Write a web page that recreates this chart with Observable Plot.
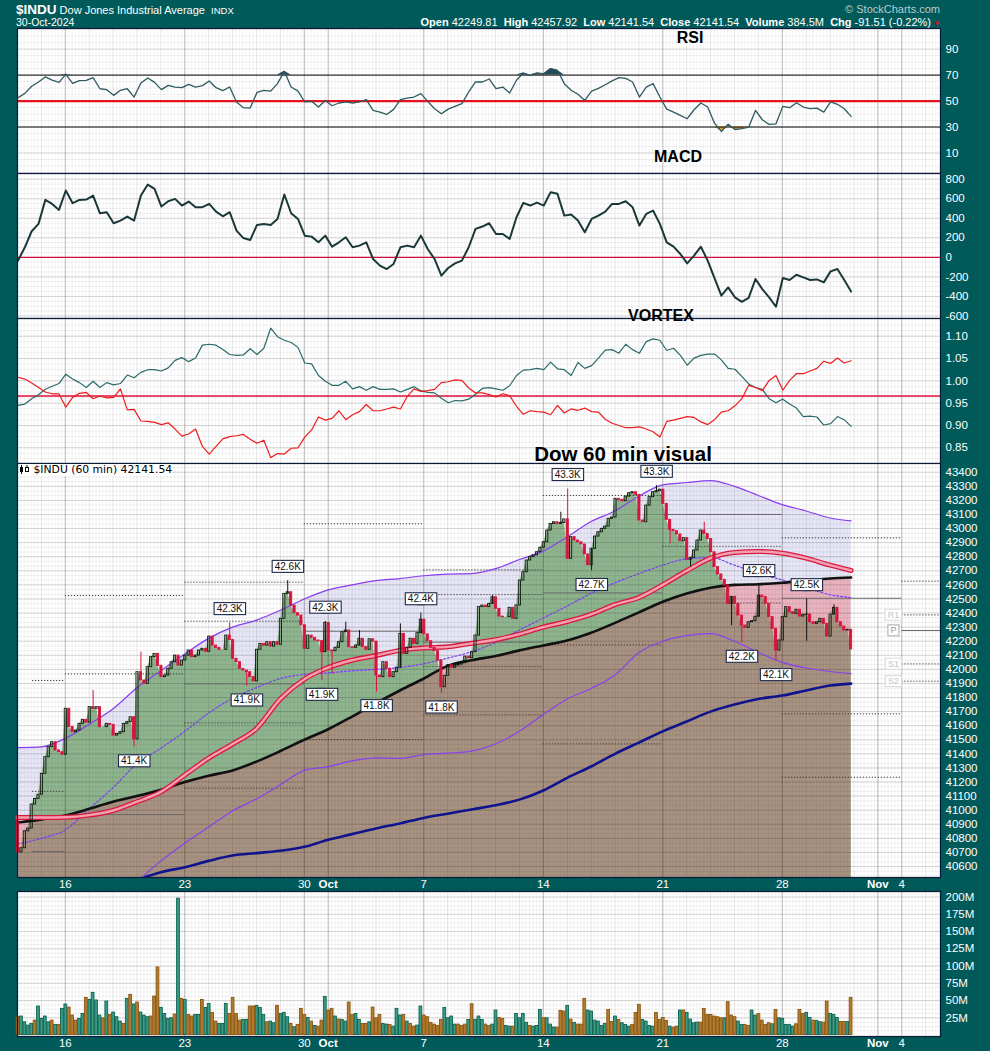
<!DOCTYPE html>
<html><head><meta charset="utf-8">
<script src="https://cdn.jsdelivr.net/npm/d3@7"></script>
<script src="https://cdn.jsdelivr.net/npm/@observablehq/plot@0.6"></script>
<style>
body{margin:0;background:#015a5a;}
#root{position:relative;width:990px;height:1051px;background:#015a5a;overflow:hidden;font-family:"Liberation Sans",Arial,sans-serif;}
.hdr{position:absolute;color:#fff;white-space:nowrap;}
.ttl{position:absolute;transform:translate(-50%,-50%);font-weight:bold;color:#000;white-space:nowrap;z-index:5;line-height:1;}
</style></head>
<body><div id="root"></div>
<script>
// ---------------- DATA ----------------
// trading-day positions of axis labels (0 = Sep 12)
const xTickDays = [2, 7, 12, 13, 17, 22, 27, 32, 36, 37];
const xTickLabels = ["16", "23", "30", "Oct", "7", "14", "21", "28", "Nov", "4"];

const firstOpen = 40930;
// hourly closes, 7 bars per trading day, Sep 12 .. Oct 30
const closes = [
40700,40730,40850,40870,41040,41080,41110,
41258,41376,41448,41483,41424,41412,41394,
41720,41590,41554,41566,41613,41642,41622,
41732,41720,41732,41590,41590,41613,41606,
41530,41542,41554,41613,41625,41660,41503,
41980,41921,41897,42016,42087,42110,42025,
41945,41956,42004,42051,42098,42027,42063,
42098,42134,42087,42098,42134,42146,42125,
42233,42169,42153,42139,42139,42240,42208,
42075,42051,42004,41992,41980,41945,41915,
42139,42181,42169,42193,42162,42193,42175,
42359,42536,42548,42453,42399,42382,42313,
42146,42240,42224,42205,42200,42122,42330,
42134,42129,42153,42193,42264,42276,42157,
42153,42169,42217,42158,42139,42214,42197,
41956,41945,42051,42004,41945,41980,42012,
42252,42110,42153,42217,42181,42257,42353,
42248,42200,42153,42129,42063,41873,41954,
42030,42011,42027,42034,42044,42091,42080,
42122,42240,42442,42453,42442,42465,42512,
42430,42375,42371,42371,42437,42359,42454,
42631,42690,42773,42797,42810,42832,42864,
42903,42986,43033,43045,43033,43040,43065,
42785,42939,42915,42903,42887,42816,42740,
42856,42943,42974,42998,43014,43069,43078,
43211,43204,43194,43227,43251,43258,43239,
43057,43045,43163,43223,43258,43265,43276,
43175,43062,42991,42981,42958,42910,42932,
42778,42792,42844,42915,42986,42962,42925,
42832,42726,42674,42636,42595,42465,42515,
42465,42382,42311,42295,42335,42342,42374,
42524,42513,42465,42371,42288,42134,42205,
42371,42442,42406,42394,42423,42375,42388,
42390,42335,42323,42335,42359,42323,42233,
42389,42437,42335,42304,42276,42281,42141.54];

// visible wicks (bar index, high, low)
const wickBar  = [22,34,36,62,67,79,89,90,92,96,100,105,112,118,124,139,159,161,168,187,191,197,201,209,212,217,222,231,239];
const wickHigh = [41850,null,42122,42330,null,42630,null,42340,null,42335,42276,null,42323,42400,null,42524,43116,43282,null,43305,null,null,43045,null,null,42600,null,42500,42458];
const wickLow  = [null,41448,null,null,41880,null,41920,null,41968,null,null,41840,null,null,41830,null,null,null,42700,null,42891,42726,null,42311,42190,null,42060,42200,null];

// peak / trough callouts
const callBar   = [34,62,67,79,90,89,105,118,124,161,168,187,217,212,222,231];
const callPrice = [41448,42330,41880,42630,42340,41920,41840,42400,41830,43282,42700,43305,42600,42190,42060,42500];
const callText  = ["41.4K","42.3K","41.9K","42.6K","42.3K","41.9K","41.8K","42.4K","41.8K","43.3K","42.7K","43.3K","42.6K","42.2K","42.1K","42.5K"];
const callAbove = [0,1,0,1,1,0,0,1,0,1,0,1,1,0,0,1];

// moving averages / bands sampled once per trading day
const maDays = [0,1,2,3,4,5,6,7,8,9,10,11,12,13,14,15,16,17,18,19,20,21,22,23,24,25,26,27,28,29,30,31,32,33,34,34.88];
const upperBand = [41445,41450,41510,41610,41720,41870,41990,42110,42220,42300,42350,42420,42500,42565,42600,42630,42645,42665,42676,42680,42715,42780,42840,42940,43050,43125,43230,43310,43327,43341,43300,43235,43170,43125,43075,43055];
const midBand = [40760,40800,40860,41010,41160,41330,41440,41560,41690,41795,41870,41935,41965,41975,41990,42000,42013,42040,42080,42125,42190,42280,42365,42450,42540,42615,42680,42740,42785,42794,42740,42680,42635,42580,42530,42510];
const lowerBand = [null,null,null,null,null,40490,40640,40766,40880,40995,41080,41180,41283,41310,41350,41372,41368,41395,41405,41420,41470,41560,41680,41790,41864,41960,42120,42200,42240,42254,42200,42120,42050,42010,41985,41970];
const redMA = [40948,40948,40950,40965,40998,41060,41130,41250,41370,41470,41580,41790,41930,42013,42065,42098,42135,42152,42160,42185,42210,42250,42300,42340,42390,42460,42510,42600,42700,42790,42830,42837,42825,42790,42740,42702];
const blackMA = [40912,40935,40962,41010,41060,41100,41145,41200,41245,41282,41345,41420,41500,41575,41665,41760,41850,41935,42025,42065,42095,42135,42170,42205,42260,42330,42405,42480,42539,42580,42600,42605,42615,42630,42645,42652];
const navyMA = [null,null,null,null,null,40505,40560,40595,40640,40678,40695,40712,40740,40790,40830,40870,40906,40945,40975,41005,41035,41075,41140,41230,41310,41400,41480,41560,41630,41700,41750,41790,41814,41850,41885,41899];

// weekly pivot levels
const pivStart = [0.63,0.63,0.63, 2,2,2, 7,7,7,7,7, 12,12,12, 17,17,17,17,17, 22,22,22,22, 27,27,27, 32,32,32,32, 37,37,37,37,37];
const pivEnd   = [2,2,2, 7,7,7, 12,12,12,12,12, 17,17,17, 22,22,22,22,22, 27,27,27,27, 32,32,32, 37,37,37,37, 38.62,38.62,38.62,38.62,38.62];
const pivValue = [41921,41134,40706, 42524,41968,40969, 42619,42342,41897,41620,41156, 43034,42271,41501, 42707,42531,42193,42020,41677, 43235,42543,42174,41471, 43100,42874,42472, 42934,42505,41684,41234, 42626,42387,42276,42039,41916];
const pivSolid = [0,0,1, 0,0,1, 0,0,1,0,0, 0,1,0, 0,0,1,0,0, 0,1,0,0, 1,0,0, 0,1,0,0, 0,0,1,0,0];
const pivLabel = ["R1","P","S1","S2"];
const pivLabelValue = [42387,42276,42039,41916];

// indicators, one value every 2 hourly bars
const rsi = [52.6,55.9,61.4,64.7,68.6,66.2,64.4,70.6,63.7,65.7,66.0,68.0,59.5,58.8,54.4,58.3,59.5,53.1,63.9,67.8,64.4,58.8,62.1,60.8,60.3,62.9,60.8,61.9,65.5,60.3,58.0,60.8,49.3,44.9,44.6,56.7,58.3,57.7,63.4,72.9,60.8,57.7,49.3,49.8,45.4,50.5,46.4,48.5,49.3,48.5,49.3,51.1,42.8,41.5,39.7,43.6,51.1,52.3,53.1,55.7,49.8,44.1,40.2,43.8,45.9,48.0,57.0,64.7,64.7,67.0,59.5,60.8,56.2,66.0,71.6,69.8,71.6,71.1,75.0,73.7,63.4,58.3,55.2,50.5,57.7,59.8,62.6,65.5,68.0,67.5,64.7,53.1,60.8,63.4,53.1,43.8,41.5,39.0,36.4,43.3,48.5,45.4,33.0,26.6,32.2,28.1,28.7,29.9,42.8,35.6,32.0,32.5,45.9,44.9,48.7,45.4,44.1,44.6,41.5,49.3,47.5,44.1,38.2];
const macd = [-34,103,267,342,588,547,485,684,554,588,591,632,451,462,349,376,417,376,632,745,701,520,574,598,530,571,513,513,547,468,420,462,274,197,177,332,342,332,393,643,451,393,222,212,154,222,109,154,205,103,120,154,-17,-85,-120,-68,103,120,103,222,85,-17,-188,-109,-62,-34,103,291,315,349,239,239,188,410,557,530,560,530,667,650,427,438,376,256,393,427,468,547,547,574,513,325,444,479,342,154,109,34,-62,17,109,-34,-212,-393,-308,-410,-455,-414,-222,-325,-410,-506,-212,-232,-178,-205,-232,-226,-256,-144,-120,-232,-349];
const viPlus = [0.945,0.948,0.960,0.969,0.981,0.988,0.994,1.015,1.004,0.996,0.985,0.999,0.985,0.996,0.991,0.994,1.013,1.007,1.019,1.025,1.025,1.022,1.029,1.046,1.052,1.043,1.051,1.080,1.082,1.080,1.070,1.059,1.057,1.058,1.072,1.059,1.073,1.118,1.099,1.091,1.086,1.075,1.040,1.038,1.012,0.999,0.990,0.990,0.999,0.982,0.987,0.979,0.987,0.981,0.981,0.982,0.975,0.981,0.987,0.978,0.974,0.973,0.961,0.951,0.956,0.955,0.959,0.970,0.983,0.985,0.982,0.979,0.989,1.012,1.024,1.025,1.028,1.025,1.042,1.027,1.025,1.012,1.041,1.028,1.034,1.051,1.069,1.070,1.062,1.082,1.070,1.062,1.088,1.094,1.091,1.068,1.073,1.057,1.035,1.051,1.057,1.060,1.060,1.047,1.028,1.026,1.010,0.993,0.985,0.981,0.960,0.951,0.959,0.948,0.939,0.920,0.921,0.919,0.901,0.904,0.920,0.913,0.898];
const viMinus = [1.008,1.004,0.995,0.985,0.975,0.971,0.971,0.941,0.963,0.972,0.974,0.960,0.966,0.962,0.963,0.982,0.935,0.936,0.910,0.909,0.907,0.902,0.906,0.892,0.876,0.881,0.892,0.853,0.836,0.853,0.870,0.875,0.877,0.880,0.869,0.860,0.867,0.828,0.837,0.836,0.849,0.850,0.874,0.890,0.919,0.912,0.916,0.933,0.913,0.924,0.931,0.947,0.933,0.933,0.937,0.941,0.937,0.965,0.982,0.976,0.978,0.981,0.996,0.998,1.002,1.001,0.984,0.973,0.973,0.969,0.964,0.971,0.967,0.943,0.925,0.933,0.931,0.930,0.924,0.945,0.928,0.937,0.934,0.939,0.931,0.930,0.914,0.905,0.900,0.895,0.895,0.897,0.892,0.886,0.874,0.909,0.912,0.916,0.920,0.918,0.908,0.902,0.913,0.930,0.933,0.944,0.960,0.990,0.985,0.978,1.001,1.012,0.979,1.001,1.016,1.016,1.022,1.028,1.044,1.039,1.051,1.040,1.045];
const vortexLine = 0.966;

// hourly volume (millions) and up/down flag
const volumes = [25.9,26.9,18.6,13.8,16.2,21.0,41.4,23.5,26.9,18.6,21.0,14.8,14.8,38.0,44.3,39.9,28.3,21.0,23.5,30.7,53.9,51.0,61.2,50.1,28.3,24.4,48.6,29.3,32.7,25.9,19.6,16.2,52.5,58.3,44.3,47.2,32.7,28.3,25.9,26.9,55.9,98.0,39.4,30.7,23.5,24.4,29.8,197.6,52.5,51.0,29.3,26.9,29.3,29.3,51.0,39.4,45.2,32.2,19.6,16.2,16.2,45.2,30.7,53.9,30.7,21.0,22.0,22.0,41.4,41.4,42.3,39.4,29.3,18.6,19.6,17.2,42.3,30.7,32.2,25.9,16.2,11.4,14.8,38.0,29.3,24.9,19.6,13.3,12.3,21.0,55.4,35.6,38.0,26.9,22.5,22.0,19.6,47.2,29.3,30.7,22.0,16.2,16.2,18.6,39.9,24.4,29.3,16.2,15.2,14.8,12.3,38.0,28.3,29.3,19.6,16.2,12.3,13.8,41.4,28.3,25.9,17.7,15.2,13.3,22.0,39.4,24.4,26.9,15.2,15.2,13.3,15.2,22.0,44.7,22.0,26.9,22.0,15.2,13.3,15.2,35.6,24.9,23.5,13.3,12.3,12.3,30.7,24.4,30.7,17.7,13.3,12.3,13.3,36.5,24.4,24.4,15.2,10.9,10.9,35.1,34.1,42.3,22.5,17.7,15.2,15.2,52.5,35.6,34.1,21.0,19.6,13.3,16.2,36.5,19.1,26.9,22.0,17.2,14.8,12.3,14.8,32.2,43.8,22.0,19.6,13.3,12.3,32.2,22.0,24.9,20.6,12.3,10.9,12.3,35.6,35.6,32.2,22.5,17.2,18.1,18.1,38.0,29.3,29.3,26.9,25.9,24.4,24.4,47.7,28.3,25.9,19.6,14.8,14.8,13.3,35.6,28.3,30.7,21.0,14.8,17.2,15.7,36.5,24.4,23.5,14.8,14.8,12.3,15.7,36.5,30.7,32.2,24.9,21.0,20.6,18.6,18.1,48.6,30.7,29.3,24.9,19.1,19.1,19.1,53.9];
const volUp = [0,1,1,1,1,0,1,1,1,1,0,1,0,1,1,0,0,0,1,1,0,1,1,1,1,0,1,0,1,1,1,0,1,0,1,0,1,1,1,0,0,0,1,1,1,1,0,1,0,1,0,0,1,1,0,1,1,0,0,1,1,1,0,0,0,0,1,1,0,0,1,1,1,0,1,1,0,1,1,1,0,1,0,0,0,1,0,1,0,0,1,0,0,1,0,1,1,0,0,1,1,0,0,1,0,0,0,1,1,0,1,1,1,0,1,0,0,1,1,0,0,0,0,0,0,1,1,1,1,0,0,0,1,0,1,1,1,0,0,1,1,0,0,1,1,0,1,1,1,1,0,1,1,1,0,1,1,1,0,0,0,1,0,1,0,0,0,1,1,1,1,1,1,0,0,1,0,1,1,1,0,0,0,1,1,1,1,0,0,0,0,1,0,0,1,0,1,1,1,1,0,0,0,0,0,0,0,1,0,0,0,1,1,0,0,1,1,0,0,0,0,1,0,1,1,1,1,1,0,0,0,1,1,0,1,1,0,0,1,1,1,0,0,1,0];

// ---------------- STYLE ----------------
const FONT = '"Liberation Sans", Arial, sans-serif';
const BORDER = "#0d1b3a";
const LAV = "#e6e6f6", PINK = "#eab3c0", GREEN = "#8fb58f", BROWN = "#a89282";
const PURPLE = "#8a3ff0", CRED = "#d4163c";
const NS = "http://www.w3.org/2000/svg";
const X_DOMAIN = [0, 38.62];
const root = document.getElementById("root");

const barX = i => (i + 0.15) / 7;
const barLines = d3.range(0, 271).map(k => k / 7);
const dayLines = d3.range(0, 39);
const majorLines = [2, 7, 12, 13, 17, 22, 27, 32, 36, 37];

function gridMarks(yMinor, yMajor) {
  return [
    Plot.ruleX(barLines, {stroke: "#000", strokeOpacity: 0.045}),
    Plot.ruleY(yMinor, {stroke: "#000", strokeOpacity: 0.06}),
    Plot.ruleX(dayLines, {stroke: "#000", strokeOpacity: 0.06}),
    Plot.ruleY(yMajor, {stroke: "#000", strokeOpacity: 0.12}),
    Plot.ruleX(majorLines, {stroke: "#000", strokeOpacity: 0.2})
  ];
}

function addPanel(top, h, mb, yOpts, marks, xAxis) {
  const xOpts = xAxis
    ? {domain: X_DOMAIN, label: null, axis: "bottom", ticks: xTickDays, tickFormat: d => xTickLabels[xTickDays.indexOf(d)], tickSize: 0, tickPadding: 2}
    : {domain: X_DOMAIN, label: null, axis: null};
  const svg = Plot.plot({
    width: 990, height: h + mb,
    marginTop: 0, marginBottom: mb, marginLeft: 17, marginRight: 50,
    style: {background: "transparent", color: "#fff", fontFamily: FONT, fontSize: "11.5px", overflow: "visible"},
    x: xOpts,
    y: Object.assign({axis: "right", label: null, tickSize: 0, tickPadding: 5}, yOpts),
    marks: [Plot.frame({fill: "#fff"}), ...marks, Plot.frame({stroke: BORDER, strokeWidth: 1.2})]
  });
  svg.style.position = "absolute"; svg.style.left = "0px"; svg.style.top = top + "px";
  root.appendChild(svg);
  svg.querySelectorAll("text").forEach(t => { if (t.textContent === "Oct" || t.textContent === "Nov") t.setAttribute("font-weight", "bold"); });
  return svg;
}

// ---------------- RSI ----------------
const rsiRows = rsi.map((v, k) => ({x: barX(2 * k), v}));
addPanel(28, 145, 0, {domain: [-5.8, 105.9], ticks: [10, 30, 50, 70, 90]}, [
  ...gridMarks(d3.range(-5, 106, 5), [10, 90]),
  Plot.areaY(rsiRows, {x: "x", y1: 70, y2: r => Math.max(70, r.v), fill: "#23485a"}),
  Plot.areaY(rsiRows, {x: "x", y1: r => Math.min(30, r.v), y2: 30, fill: "#e59a2a"}),
  Plot.ruleY([70, 30], {stroke: "#000", strokeWidth: 1}),
  Plot.ruleY([50], {stroke: "#e8101c", strokeWidth: 2.2}),
  Plot.line(rsiRows, {x: "x", y: "v", stroke: "#2d5a60", strokeWidth: 1.3})
]);

// ---------------- MACD ----------------
const macdRows = macd.map((v, k) => ({x: barX(2 * k), v}));
addPanel(173, 145, 0, {domain: [-626, 858], ticks: [-600, -400, -200, 0, 200, 400, 600, 800], tickFormat: d => String(d)}, [
  ...gridMarks(d3.range(-600, 851, 50), d3.range(-600, 801, 200)),
  Plot.ruleY([0], {stroke: "#d0103a", strokeWidth: 1.2}),
  Plot.line(macdRows, {x: "x", y: "v", stroke: "#1a3838", strokeWidth: 2})
]);

// ---------------- VORTEX ----------------
const viRows = viPlus.map((v, k) => ({x: barX(2 * k), p: v, m: viMinus[k]}));
addPanel(318, 145, 0, {domain: [0.8148, 1.1397], ticks: [0.85, 0.9, 0.95, 1.0, 1.05, 1.1], tickFormat: d => d.toFixed(2)}, [
  ...gridMarks(d3.range(0.8125, 1.14, 0.0125), [0.85, 0.9, 0.95, 1.0, 1.05, 1.1]),
  Plot.ruleY([vortexLine], {stroke: "#e0103a", strokeWidth: 1.3}),
  Plot.line(viRows, {x: "x", y: "p", stroke: "#2b6a6a", strokeWidth: 1.2}),
  Plot.line(viRows, {x: "x", y: "m", stroke: "#ee1c1c", strokeWidth: 1.2})
]);

// ---------------- PRICE ----------------
const yMin = 40522;
const bars = closes.map((c, i) => ({x: barX(i), o: i ? closes[i - 1] : firstOpen, c}));
const maRows = maDays.map((d, k) => ({d, up: upperBand[k], mid: midBand[k], lo: lowerBand[k], red: redMA[k], blk: blackMA[k], navy: navyMA[k]}));
const wickRows = wickBar.map((b, k) => {
  const br = bars[b];
  return {x: br.x, hi: wickHigh[k] ?? Math.max(br.o, br.c), lo: wickLow[k] ?? Math.min(br.o, br.c), up: br.c >= br.o};
});
const callRows = callBar.map((b, k) => ({x: barX(b), y: callPrice[k], t: callText[k], above: callAbove[k]}));
const pivRows = pivValue.map((v, k) => ({s: pivStart[k], e: pivEnd[k], v, solid: pivSolid[k]}));
const pivLabRows = pivLabel.map((t, k) => ({t, v: pivLabelValue[k]}));
const CURVE = "monotone-x";

const priceSvg = addPanel(463, 414, 14, {domain: [yMin, 43462], ticks: d3.range(40600, 43401, 100), tickFormat: d => String(d)}, [
  Plot.areaY(maRows, {x: "d", y1: yMin, y2: "up", fill: LAV, curve: CURVE}),
  Plot.areaY(maRows, {x: "d", y1: yMin, y2: "blk", fill: PINK, curve: CURVE}),
  Plot.areaY(bars, {x: "x", y1: yMin, y2: "c", fill: GREEN}),
  Plot.areaY(maRows, {x: "d", y1: yMin, y2: "blk", fill: BROWN, curve: CURVE}),
  ...gridMarks(d3.range(40500, 43462, 100 / 3), d3.range(40600, 43401, 100)),
  Plot.ruleY(pivRows.filter(r => !r.solid), {y: "v", x1: "s", x2: "e", stroke: "#3a3a3a", strokeWidth: 1, strokeDasharray: "1.2,1.8"}),
  Plot.ruleY(pivRows.filter(r => r.solid), {y: "v", x1: "s", x2: "e", stroke: "#6a6a6a", strokeWidth: 1}),
  Plot.line(maRows, {x: "d", y: "navy", stroke: "#10148c", strokeWidth: 2.6, curve: CURVE, clip: true}),
  Plot.line(maRows, {x: "d", y: "lo", stroke: PURPLE, strokeWidth: 1.2, curve: CURVE, clip: true}),
  Plot.line(maRows, {x: "d", y: "up", stroke: PURPLE, strokeWidth: 1.2, curve: CURVE}),
  Plot.line(maRows, {x: "d", y: "mid", stroke: "#7a3ff0", strokeWidth: 1.2, strokeDasharray: "2,2", curve: CURVE}),
  Plot.line(maRows, {x: "d", y: "blk", stroke: "#111", strokeWidth: 2.6, curve: CURVE}),
  Plot.line(maRows, {x: "d", y: "red", stroke: "#d91a3f", strokeWidth: 5, curve: CURVE}),
  Plot.line(maRows, {x: "d", y: "red", stroke: "#f2a1b2", strokeWidth: 2.4, curve: CURVE}),
  Plot.ruleX(wickRows.filter(r => r.up), {x: "x", y1: "lo", y2: "hi", stroke: "#111", strokeWidth: 1}),
  Plot.ruleX(wickRows.filter(r => !r.up), {x: "x", y1: "lo", y2: "hi", stroke: CRED, strokeWidth: 1}),
  Plot.rect(bars.filter(b => b.c >= b.o), {x1: b => b.x - 0.045, x2: b => b.x + 0.045, y1: "o", y2: "c", fill: "none", stroke: "#0c1a0c", strokeWidth: 0.9}),
  Plot.rect(bars.filter(b => b.c < b.o), {x1: b => b.x - 0.045, x2: b => b.x + 0.045, y1: "c", y2: "o", fill: CRED, stroke: CRED, strokeWidth: 0.9}),
  Plot.text(callRows.filter(r => r.above), {x: "x", y: "y", text: "t", dy: -14, fill: "#111111", fontSize: 10, fontFamily: FONT}),
  Plot.text(callRows.filter(r => !r.above), {x: "x", y: "y", text: "t", dy: 14, fill: "#111112", fontSize: 10, fontFamily: FONT}),
  Plot.text(pivLabRows.filter(r => r.t === "P"), {x: 36.65, y: "v", text: "t", fill: "#999999", fontSize: 9, fontFamily: FONT}),
  Plot.text(pivLabRows.filter(r => r.t !== "P"), {x: 36.65, y: "v", text: "t", fill: "#c4c4c4", fontSize: 9, fontFamily: FONT})
], true);

// clip brown region to below the close area
(function () {
  const gGreen = priceSvg.querySelector(`g[fill="${GREEN}"]`);
  const gBrown = priceSvg.querySelector(`g[fill="${BROWN}"]`);
  if (!gGreen || !gBrown) return;
  const d = gGreen.querySelector("path").getAttribute("d");
  const defs = document.createElementNS(NS, "defs");
  const cp = document.createElementNS(NS, "clipPath");
  cp.setAttribute("id", "belowClose");
  const p = document.createElementNS(NS, "path");
  p.setAttribute("d", d);
  cp.appendChild(p); defs.appendChild(cp);
  priceSvg.insertBefore(defs, priceSvg.firstChild);
  gBrown.querySelectorAll("path").forEach(el => el.setAttribute("clip-path", "url(#belowClose)"));
})();

function boxify(svg, fill, dir, bg, border) {
  const g = svg.querySelector(`g[fill="${fill}"]`);
  if (!g) return;
  g.querySelectorAll("text").forEach(t => {
    const b = t.getBBox();
    const tr = t.getAttribute("transform");
    const ax = +(t.getAttribute("x") || 0), ay = +(t.getAttribute("y") || 0);
    const r = document.createElementNS(NS, "rect");
    r.setAttribute("x", b.x - 2.5); r.setAttribute("y", b.y - 0.5);
    r.setAttribute("width", b.width + 5); r.setAttribute("height", b.height + 1);
    r.setAttribute("fill", bg); r.setAttribute("stroke", border); r.setAttribute("stroke-width", 1.1);
    if (tr) r.setAttribute("transform", tr);
    g.insertBefore(r, t);
    if (dir) {
      const edge = dir > 0 ? b.y + b.height + 0.5 : b.y - 0.5;
      const tip = dir > 0 ? ay + 14 : ay - 14;
      const apex = dir > 0 ? Math.min(edge + 5, tip) : Math.max(edge - 5, tip);
      const tri = document.createElementNS(NS, "path");
      tri.setAttribute("d", `M${ax - 4},${edge}L${ax + 4},${edge}L${ax},${apex}Z M${ax},${apex}L${ax},${tip}`);
      tri.setAttribute("fill", "#fff"); tri.setAttribute("stroke", border); tri.setAttribute("stroke-width", 1);
      if (tr) tri.setAttribute("transform", tr);
      g.insertBefore(tri, r);
    }
  });
}
boxify(priceSvg, "#111111", 1, "#fff", "#1e2a4a");
boxify(priceSvg, "#111112", -1, "#fff", "#1e2a4a");
boxify(priceSvg, "#999999", 0, "#fff", "#b0b0b0");
boxify(priceSvg, "#c4c4c4", 0, "#fff", "#dddddd");

// ---------------- VOLUME ----------------
const volRows = volumes.map((v, i) => ({x: barX(i), v, up: volUp[i]}));
addPanel(891, 145, 15, {domain: [-2, 208], ticks: [25, 50, 75, 100, 125, 150, 175, 200], tickFormat: d => d + "M"}, [
  ...gridMarks(d3.range(6.25, 208, 6.25), d3.range(25, 201, 25)),
  Plot.rect(volRows.filter(r => r.up), {x1: r => r.x - 0.058, x2: r => r.x + 0.058, y1: 0, y2: "v", fill: "#3c9985", stroke: "#0b6450", strokeWidth: 0.9}),
  Plot.rect(volRows.filter(r => !r.up), {x1: r => r.x - 0.058, x2: r => r.x + 0.058, y1: 0, y2: "v", fill: "#b27b32", stroke: "#8a560e", strokeWidth: 0.9})
], true);

// ---------------- TEXT OVERLAYS ----------------
function html(s) { const d = document.createElement("div"); d.innerHTML = s; while (d.firstChild) root.appendChild(d.firstChild); }
html(`<div class="hdr" style="left:16px;top:2px;font-size:11px"><b style="font-size:13.5px">$INDU</b> Dow Jones Industrial Average&nbsp; <span style="font-size:9.5px">INDX</span></div>`);
html(`<div class="hdr" style="left:16px;top:16px;font-size:10.5px">30-Oct-2024</div>`);
html(`<div class="hdr" style="right:59px;top:16px;font-size:11px"><b>Open</b> 42249.81&nbsp; <b>High</b> 42457.92&nbsp; <b>Low</b> 42141.54&nbsp; <b>Close</b> 42141.54&nbsp; <b>Volume</b> 384.5M&nbsp; <b>Chg</b> -91.51 (-0.22%)</div>`);
html(`<div class="hdr" style="left:933px;top:19px;font-size:8px;color:#d0102a">▼</div>`);
html(`<div class="hdr" style="right:50px;top:3px;font-size:11px;color:#b8cccc">© StockCharts.com</div>`);
html(`<div class="ttl" style="left:690px;top:38px;font-size:16px">RSI</div>`);
html(`<div class="ttl" style="left:678px;top:157px;font-size:16px">MACD</div>`);
html(`<div class="ttl" style="left:661px;top:316px;font-size:16px">VORTEX</div>`);
html(`<div class="ttl" style="left:623px;top:454px;font-size:20.5px">Dow 60 min visual</div>`);
html(`<div style="position:absolute;left:19px;top:464px;z-index:5;font-family:'DejaVu Sans',sans-serif;font-size:10.8px;color:#000;background:#fff;white-space:nowrap;line-height:12px">
<svg width="11" height="9" style="vertical-align:-1px"><rect x="1" y="2" width="3" height="5" fill="#000"/><line x1="2.5" y1="0" x2="2.5" y2="9" stroke="#000"/><rect x="6.5" y="2.5" width="3" height="4" fill="none" stroke="#000"/><line x1="8" y1="0" x2="8" y2="2.5" stroke="#000"/></svg> $INDU (60 min) 42141.54</div>`);
</script>
</body></html>
